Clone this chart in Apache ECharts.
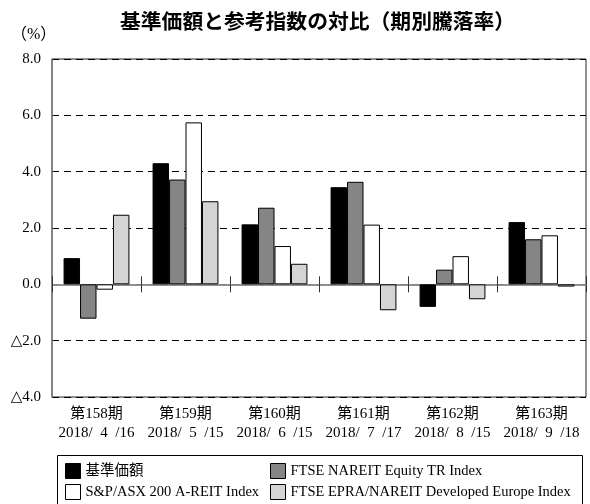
<!DOCTYPE html>
<html><head><meta charset="utf-8">
<script src="https://cdn.jsdelivr.net/npm/echarts@6/dist/echarts.min.js"></script>
<style>html,body{margin:0;padding:0;background:#fff}#c{width:590px;height:504px}</style>
</head><body><div id="c"></div>
<script>
const periods = ['第158期','第159期','第160期','第161期','第162期','第163期'];
const dates = ['2018/\u20024\u2002/16','2018/\u20025\u2002/15','2018/\u20026\u2002/15','2018/\u20027\u2002/17','2018/\u20028\u2002/15','2018/\u20029\u2002/18'];
const seriesNames = ['基準価額','FTSE NAREIT Equity TR Index','S&P/ASX 200 A-REIT Index','FTSE EPRA/NAREIT Developed Europe Index'];
const fundValues = [0.93, 4.30, 2.13, 3.45, -0.80, 2.21];
const nareitValues = [-1.22, 3.72, 2.72, 3.64, 0.52, 1.60];
const asxValues = [-0.19, 5.75, 1.36, 2.12, 1.00, 1.74];
const epraValues = [2.47, 2.95, 0.73, -0.92, -0.53, -0.08];
const yTicks = {min: -4, max: 8, interval: 2};

const SERIF = "'Liberation Serif', 'DejaVu Serif', 'Noto Sans CJK JP'";
const colors = ['#000000', '#858585', '#ffffff', '#d4d4d4'];
const allValues = [fundValues, nareitValues, asxValues, epraValues];
const categories = periods.map((p, i) => p + '\n' + dates[i]);

const chart = echarts.init(document.getElementById('c'), null, {renderer: 'canvas'});
const tickAxisBase = {
  type: 'category', data: categories, gridIndex: 0, position: 'bottom',
  axisLine: {show: true, onZero: true, onZeroAxisIndex: 0, lineStyle: {color: '#8a8a8a', width: 1.5}},
  axisLabel: {show: false}, splitLine: {show: false}
};
const legendBase = {
  orient: 'vertical', top: 463, padding: 0, itemWidth: 15, itemHeight: 15, itemGap: 5,
  icon: 'rect', textStyle: {fontFamily: SERIF, fontSize: 14.5, color: '#000'},
  itemStyle: {borderColor: '#000', borderWidth: 1}
};
chart.setOption({
  animation: false,
  backgroundColor: '#fff',
  title: {
    text: '基準価額と参考指数の対比（期別騰落率）', left: 115, top: 6,
    textStyle: {fontFamily: "'Noto Sans CJK JP'", fontWeight: 'bold', fontSize: 20.8, color: '#000'}
  },
  graphic: [
    {type: 'text', left: 11, top: 27, style: {text: '（%）', font: "16px " + SERIF, fill: '#000'}},
    {type: 'rect', shape: {x: 57.5, y: 455.5, width: 525, height: 60}, style: {fill: 'none', stroke: '#000', lineWidth: 1}, z: 10}
  ],
  legend: [
    Object.assign({}, legendBase, {data: [seriesNames[0], seriesNames[2]], left: 65}),
    Object.assign({}, legendBase, {data: [seriesNames[1], seriesNames[3]], left: 270})
  ],
  grid: {left: 52, right: 4, top: 59, bottom: 107, show: true, borderColor: '#222', borderWidth: 1, backgroundColor: 'transparent'},
  xAxis: [
    {type: 'category', data: categories, position: 'bottom',
     axisLine: {show: false, onZero: false}, axisTick: {show: false},
     axisLabel: {fontFamily: SERIF, fontSize: 15, color: '#000', lineHeight: 19, margin: 8, interval: 0}},
    Object.assign({}, tickAxisBase, {axisTick: {show: true, length: 8, inside: false, lineStyle: {color: '#333', width: 1}}}),
    Object.assign({}, tickAxisBase, {axisTick: {show: true, length: 8, inside: true, lineStyle: {color: '#333', width: 1}}})
  ],
  yAxis: {
    type: 'value', min: yTicks.min, max: yTicks.max, interval: yTicks.interval,
    axisLine: {show: true, lineStyle: {color: '#808080', width: 1.5}},
    axisTick: {show: false},
    axisLabel: {fontFamily: SERIF, fontSize: 15, color: '#000', margin: 11,
      formatter: v => v < 0 ? '△' + Math.abs(v).toFixed(1) : v.toFixed(1)},
    splitLine: {show: true, lineStyle: {color: '#000', type: [7, 5], width: 1}}
  },
  series: seriesNames.map((name, i) => ({
    name, type: 'bar', xAxisIndex: 0, data: allValues[i],
    barGap: 0, barCategoryGap: '26%',
    itemStyle: {color: colors[i], borderColor: '#000', borderWidth: 1}
  }))
});
</script></body></html>
